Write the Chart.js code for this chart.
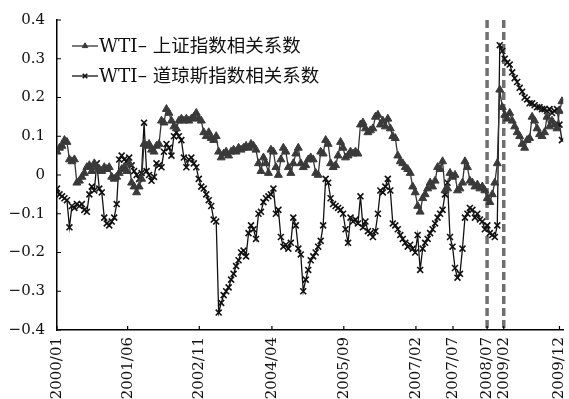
<!DOCTYPE html>
<html>
<head>
<meta charset="utf-8">
<script src="https://cdn.jsdelivr.net/npm/chart.js@4.4.1/dist/chart.umd.min.js"></script>
<style>
  html, body { margin: 0; padding: 0; background: #fff; }
  #wrap { width: 569px; height: 399px; }
</style>
</head>
<body>
<div id="wrap"><canvas id="c" width="569" height="399"></canvas></div>
<script>
// Date labels shown on the x axis and the observation index where each sits
const tickLabels = ['2000/01', '2001/06', '2002/11', '2004/04', '2005/09', '2007/02', '2007/07', '2008/07', '2009/02', '2009/12'];
const tickIndex  = [0, 28.4, 57.2, 86.4, 115.3, 144.3, 159.2, 172.9, 179.6, 202];
// Dates marked with dashed vertical lines
const breakDates = ['2008/07', '2009/02'];

const seriesNames = ['WTI– 上证指数相关系数', 'WTI– 道琼斯指数相关系数'];

// Dynamic correlation, WTI vs Shanghai Composite
const shanghaiCorr = [
  0.06, 0.07, 0.075, 0.09, 0.085, 0.04, 0.035, 0.04, -0.02, -0.015,
  -0.005, 0.005, 0.02, 0.025, 0.01, 0.03, 0.02, 0.015, 0.01, 0.02,
  0.015, 0.02, -0.005, -0.01, -0.005, 0.005, 0.015, 0.02, 0.01, 0.03,
  -0.02, -0.03, -0.045, -0.03, -0.01, 0.08, 0.075, 0.08, 0.065, 0.06,
  0.075, 0.08, 0.14, 0.135, 0.17, 0.16, 0.14, 0.125, 0.12, 0.14,
  0.145, 0.14, 0.145, 0.14, 0.145, 0.15, 0.16, 0.145, 0.14, 0.11,
  0.10, 0.11, 0.095, 0.09, 0.10, 0.06, 0.045, 0.055, 0.06, 0.05,
  0.06, 0.065, 0.06, 0.07, 0.065, 0.07, 0.075, 0.07, 0.08, 0.075,
  0.065, 0.03, 0.01, 0.045, 0.03, 0.005, 0.065, 0.06, 0.02, 0.0,
  0.04, 0.07, 0.06, 0.02, 0.005, 0.03, 0.055, 0.07, 0.03, 0.02,
  0.025, 0.04, 0.045, 0.04, 0.005, 0.0, 0.06, 0.055, 0.09, 0.08,
  0.03, 0.02, 0.025, 0.05, 0.085, 0.07, 0.045, 0.05, 0.06, 0.055,
  0.06, 0.055, 0.13, 0.135, 0.12, 0.11, 0.115, 0.12, 0.15, 0.155,
  0.13, 0.14, 0.125, 0.145, 0.12, 0.1, 0.095, 0.05, 0.035, 0.03,
  0.02, 0.015, 0.005, -0.03, -0.045, -0.08, -0.095, -0.06, -0.05, -0.035,
  -0.02, -0.03, -0.015, 0.02, 0.015, 0.035, -0.04, -0.035, 0.005, -0.005,
  0.0, -0.04, -0.035, -0.02, 0.035, 0.02, -0.015, -0.02, -0.03, -0.025,
  -0.035, -0.03, -0.04, -0.06, -0.07, -0.05, -0.02, 0.03, 0.22, 0.175,
  0.155, 0.145, 0.16, 0.14, 0.125, 0.11, 0.1, 0.08, 0.07, 0.09,
  0.095, 0.15, 0.14, 0.12, 0.105, 0.1, 0.11, 0.15, 0.125, 0.14,
  0.13, 0.12, 0.165, 0.19
];

// Dynamic correlation, WTI vs Dow Jones
const dowJonesCorr = [
  -0.035, -0.05, -0.055, -0.06, -0.065, -0.135, -0.08, -0.085, -0.075, -0.08,
  -0.075, -0.09, -0.095, -0.05, -0.03, -0.04, 0.03, -0.035, -0.045, -0.11,
  -0.125, -0.13, -0.12, -0.11, -0.075, 0.04, 0.05, 0.04, 0.035, 0.045,
  0.025, 0.01, 0.0, -0.01, 0.005, 0.135, 0.01, 0.0, -0.015, -0.005,
  0.03, 0.025, 0.02, 0.06, 0.08, 0.07, 0.05, 0.1, 0.11, 0.1,
  0.09, 0.045, 0.02, 0.04, 0.045, 0.03, 0.02, -0.01, -0.03, -0.035,
  -0.05, -0.065, -0.08, -0.115, -0.12, -0.355, -0.33, -0.31, -0.3, -0.29,
  -0.27, -0.255, -0.235, -0.22, -0.2, -0.195, -0.21, -0.15, -0.13, -0.14,
  -0.165, -0.1, -0.095, -0.07, -0.06, -0.055, -0.05, -0.035, -0.1, -0.09,
  -0.16, -0.185, -0.18, -0.19, -0.175, -0.11, -0.13, -0.19, -0.205, -0.3,
  -0.27, -0.245, -0.22, -0.21, -0.2, -0.185, -0.17, -0.13, -0.01, -0.02,
  -0.06, -0.075, -0.08, -0.085, -0.09, -0.1, -0.14, -0.175, -0.11, -0.12,
  -0.115, -0.125, -0.055, -0.135, -0.12, -0.145, -0.15, -0.16, -0.145, -0.1,
  -0.04, -0.045, -0.03, -0.01, -0.04, -0.125, -0.13, -0.14, -0.155, -0.165,
  -0.175, -0.185, -0.18, -0.19, -0.2, -0.155, -0.245, -0.19, -0.175, -0.165,
  -0.15, -0.14, -0.125, -0.11, -0.1, -0.09, -0.05, -0.02, -0.16, -0.185,
  -0.24, -0.265, -0.255, -0.19, -0.11, -0.1, -0.085, -0.09, -0.11, -0.1,
  -0.115, -0.12, -0.14, -0.13, -0.15, -0.155, -0.16, -0.13, 0.335, 0.32,
  0.3, 0.29, 0.285, 0.265, 0.25, 0.24, 0.225, 0.215, 0.2, 0.195,
  0.185, 0.185, 0.18, 0.175, 0.175, 0.17, 0.17, 0.165, 0.17, 0.16,
  0.165, 0.17, 0.13, 0.09
];

const FONT = "'DejaVu Serif', 'Noto Sans CJK SC', serif";
const toPoints = arr => arr.map((v, i) => ({ x: i, y: v }));

function fmtY(v) {
  const r = Math.round(v * 10) / 10;
  if (r === 0) return '0';
  return (r < 0 ? '\u2212' : '') + Math.abs(r).toFixed(1);
}

// Short tick marks pointing into the plot
const innerTicks = {
  id: 'innerTicks',
  afterDraw(chart) {
    const { ctx, chartArea: a, scales: { x, y } } = chart;
    ctx.save();
    ctx.strokeStyle = '#000';
    ctx.lineWidth = 1.2;
    ctx.beginPath();
    x.ticks.forEach((t, i) => {
      const px = x.getPixelForTick(i);
      ctx.moveTo(px, a.bottom);
      ctx.lineTo(px, a.bottom - 4);
    });
    y.ticks.forEach((t, i) => {
      const py = y.getPixelForTick(i);
      ctx.moveTo(a.left, py);
      ctx.lineTo(a.left + 4, py);
    });
    ctx.stroke();
    ctx.restore();
  }
};

// Dashed vertical lines at the break dates
const breakLines = {
  id: 'breakLines',
  beforeDatasetsDraw(chart) {
    const { ctx, chartArea: a, scales: { x } } = chart;
    ctx.save();
    ctx.strokeStyle = '#707070';
    ctx.lineWidth = 3.5;
    ctx.setLineDash([8, 4]);
    breakDates.forEach(d => {
      const px = x.getPixelForValue(tickIndex[tickLabels.indexOf(d)]);
      ctx.beginPath();
      ctx.moveTo(px, a.top);
      ctx.lineTo(px, a.bottom);
      ctx.stroke();
    });
    ctx.restore();
  }
};

// Legend drawn inside the plot: short line with the series marker, then the name
const innerLegend = {
  id: 'innerLegend',
  afterDraw(chart) {
    const { ctx, chartArea: a } = chart;
    ctx.save();
    chart.data.datasets.forEach((ds, k) => {
      const cy = a.top + 26 + k * 30;
      const x0 = a.left + 15, x1 = a.left + 41;
      ctx.strokeStyle = ds.borderColor;
      ctx.lineWidth = 1.3;
      ctx.setLineDash([]);
      ctx.beginPath();
      ctx.moveTo(x0, cy);
      ctx.lineTo(x1, cy);
      ctx.stroke();
      const opts = { pointStyle: ds.pointStyle, radius: 3.2, borderWidth: ds.pointBorderWidth, rotation: 0 };
      ctx.fillStyle = ds.pointBackgroundColor;
      ctx.strokeStyle = ds.pointBorderColor;
      ctx.lineWidth = ds.pointBorderWidth;
      Chart.helpers.drawPoint(ctx, opts, (x0 + x1) / 2, cy);
      ctx.fillStyle = '#111';
      ctx.font = "18.5px " + FONT;
      ctx.textBaseline = 'middle';
      ctx.textAlign = 'left';
      ctx.fillText(ds.label, x1 + 1, cy + 1);
    });
    ctx.restore();
  }
};

new Chart(document.getElementById('c'), {
  type: 'line',
  data: {
    datasets: [
      {
        label: seriesNames[0],
        data: toPoints(shanghaiCorr),
        borderColor: '#333',
        borderWidth: 1.3,
        pointStyle: 'triangle',
        pointRadius: 4.6,
        pointBackgroundColor: '#3a3a3a',
        pointBorderColor: '#3a3a3a',
        pointBorderWidth: 1,
        tension: 0
      },
      {
        label: seriesNames[1],
        data: toPoints(dowJonesCorr),
        borderColor: '#111',
        borderWidth: 1.3,
        pointStyle: 'crossRot',
        pointRadius: 4.2,
        pointBackgroundColor: '#111',
        pointBorderColor: '#111',
        pointBorderWidth: 1.6,
        tension: 0
      }
    ]
  },
  options: {
    responsive: false,
    animation: false,
    layout: { padding: { left: 0, top: 20, right: 3, bottom: 0 } },
    plugins: { legend: { display: false }, tooltip: { enabled: false } },
    scales: {
      x: {
        type: 'linear',
        min: 0,
        max: 203.5,
        afterBuildTicks: s => { s.ticks = tickIndex.map(v => ({ value: v })); },
        afterFit: s => { s.height = 69; s.paddingLeft = 0; s.paddingRight = 0; },
        grid: { display: false, drawTicks: false },
        border: { display: true, color: '#000', width: 1.5 },
        ticks: {
          autoSkip: false,
          minRotation: 90,
          maxRotation: 90,
          padding: 7,
          color: '#111',
          font: { family: FONT, size: 15 },
          callback: (v, i) => tickLabels[i]
        }
      },
      y: {
        min: -0.4,
        max: 0.4,
        afterFit: s => { s.width = 57; s.paddingTop = 0; s.paddingBottom = 0; },
        grid: { display: false, drawTicks: false },
        border: { display: true, color: '#000', width: 1.5 },
        ticks: {
          stepSize: 0.1,
          padding: 12,
          color: '#111',
          font: { family: FONT, size: 15 },
          callback: v => fmtY(v)
        }
      }
    }
  },
  plugins: [breakLines, innerTicks, innerLegend]
});
</script>
</body>
</html>
